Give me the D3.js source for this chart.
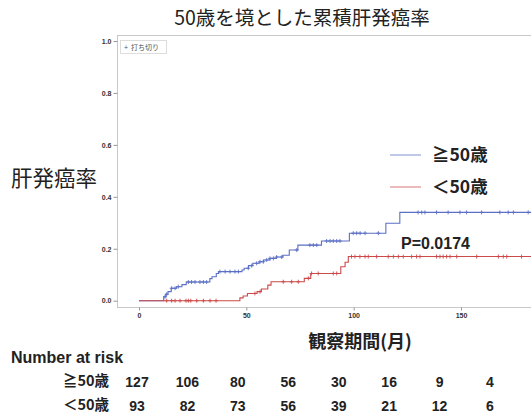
<!DOCTYPE html>
<html><head><meta charset="utf-8">
<script src="https://cdn.jsdelivr.net/npm/d3@7"></script>
<style>
html,body{margin:0;padding:0;background:#fff;overflow:hidden;}
svg{display:block;}
</style></head>
<body>
<svg id="chart" width="531" height="414"></svg>
<script>
// ---- data ----
const title = "50歳を境とした累積肝発癌率";
const yLabel = "肝発癌率";
const xLabel = "観察期間(月)";
const groupNames = ["≧50歳", "＜50歳"];
const xTicks = [0, 50, 100, 150];
const yTicks = [0.0, 0.2, 0.4, 0.6, 0.8, 1.0];
const pValueText = "P=0.0174";
const censorLegend = "打ち切り";
const lastFollowUp = 195;

const olderTimes = [0, 11.5, 12.5, 13.5, 15, 17.5, 20, 22, 33, 34, 36, 37, 48, 49, 51, 53, 56, 58, 61, 64, 67, 70, 74, 85, 98, 115, 121.5];
const olderRates = [0, 0.015, 0.025, 0.035, 0.048, 0.054, 0.062, 0.072, 0.085, 0.092, 0.105, 0.112, 0.118, 0.125, 0.135, 0.144, 0.15, 0.157, 0.163, 0.168, 0.175, 0.195, 0.214, 0.23, 0.26, 0.298, 0.34];
const olderCensor = [12.1, 12.9, 15.2, 16.8, 18.3, 23, 24.5, 26.1, 28.4, 30, 31.5, 37.7, 40.1, 42.4, 44.7, 46.3, 50.9, 52.5, 54.8, 56.4, 57.9, 59.5, 61, 62.6, 64.1, 66.5, 73.5, 79.6, 81.2, 82.8, 87.4, 89, 90.5, 92.1, 93.6, 99.8, 101.4, 103, 105.3, 111.5, 130, 131.7, 133.2, 138.6, 144, 149.5, 152.6, 159.6, 168.1, 172, 174.4, 181.3];

const youngerTimes = [0, 47, 48.5, 50.5, 55, 57, 60, 61.5, 77, 80, 94, 96, 97.5];
const youngerRates = [0, 0.011, 0.018, 0.028, 0.035, 0.045, 0.06, 0.073, 0.086, 0.105, 0.131, 0.148, 0.17];
const youngerCensor = [12.9, 15.2, 16.8, 19.1, 21.9, 23, 24.1, 26.9, 30, 33.1, 35.9, 54, 56.4, 67.2, 71.1, 74.2, 78.9, 80.4, 83.5, 90.5, 92.1, 99, 100.6, 102.9, 105.3, 106.8, 110.7, 116.1, 118.5, 120.8, 123.1, 127, 129.3, 130.9, 138.6, 140.2, 141.7, 143.3, 144.9, 148, 157.3, 167.4, 169.7, 171.3, 178.2];

const riskTimes = [0, 24, 48, 72, 96, 120, 144, 168];
const olderAtRisk = [127, 106, 80, 56, 30, 16, 9, 4];
const youngerAtRisk = [93, 82, 73, 56, 39, 21, 12, 6];

// ---- chart ----
const svg = d3.select("#chart");
const cjk = "'Noto Sans CJK JP','Noto Sans',sans-serif";
const latin = "'Liberation Sans',Arial,sans-serif";

const x = d3.scaleLinear().domain([0, 150]).range([139, 461]);
const y = d3.scaleLinear().domain([0, 1]).range([300.7, 41]);
const frame = {left: 117.5, top: 35.5, bottom: 307.5, right: 580};

// title
svg.append("text").attr("x", 302).attr("y", 25).attr("text-anchor", "middle")
  .attr("font-family", cjk).attr("font-size", 19.5).attr("fill", "#222").text(title);

// frame
svg.append("rect").attr("x", frame.left).attr("y", frame.top)
  .attr("width", frame.right - frame.left).attr("height", frame.bottom - frame.top)
  .attr("fill", "none").attr("stroke", "#c8c8c8").attr("stroke-width", 1);

// x axis
const xAxis = d3.axisBottom(x).tickValues(xTicks).tickSize(3).tickPadding(3).tickFormat(d3.format("d"));
const gx = svg.append("g").attr("transform", `translate(0,${frame.bottom})`).call(xAxis);
gx.select(".domain").remove();
gx.selectAll("line").attr("stroke", "#999");
gx.selectAll("text").attr("font-family", latin).attr("font-size", 7).attr("font-weight", "bold").attr("fill", "#333");

// y axis
const yAxis = d3.axisLeft(y).tickValues(yTicks).tickSize(4).tickPadding(2).tickFormat(d3.format(".1f"));
const gy = svg.append("g").attr("transform", `translate(${frame.left},0)`).call(yAxis);
gy.select(".domain").remove();
gy.selectAll("line").attr("stroke", "#999");
gy.selectAll("text").attr("font-family", latin).attr("font-size", 7).attr("font-weight", "bold").attr("fill", "#333");

// censor legend box
const lg = svg.append("g");
lg.append("rect").attr("x", 120.5).attr("y", 40.5).attr("width", 46).attr("height", 13)
  .attr("fill", "#fff").attr("stroke", "#ddd").attr("stroke-width", 1);
lg.append("text").attr("x", 124).attr("y", 50).attr("font-family", latin).attr("font-size", 7).attr("fill", "#555").text("+");
lg.append("text").attr("x", 131).attr("y", 50).attr("font-family", cjk).attr("font-size", 7).attr("fill", "#555").text(censorLegend);

// curves
const colors = ["#5b6fc4", "#cc4a4a"];
function stepPath(times, rates) {
  const pts = times.map((t, i) => [t, rates[i]]);
  pts.push([lastFollowUp, rates[rates.length - 1]]);
  return d3.line().x(d => x(d[0])).y(d => y(d[1])).curve(d3.curveStepAfter)(pts);
}
function rateAt(times, rates, t) {
  const i = d3.bisectRight(times, t) - 1;
  return rates[Math.max(0, i)];
}
const series = [
  {times: olderTimes, rates: olderRates, censor: olderCensor, color: colors[0]},
  {times: youngerTimes, rates: youngerRates, censor: youngerCensor, color: colors[1]}
];
const clip = svg.append("clipPath").attr("id", "clip").append("rect")
  .attr("x", frame.left).attr("y", frame.top).attr("width", frame.right - frame.left).attr("height", frame.bottom - frame.top);
const plot = svg.append("g").attr("clip-path", "url(#clip)");
series.forEach(s => {
  plot.append("path").attr("d", stepPath(s.times, s.rates)).attr("fill", "none")
    .attr("stroke", s.color).attr("stroke-width", 1.1);
  const cs = plot.append("g");
  s.censor.forEach(t => {
    const cx = x(t), cy = y(rateAt(s.times, s.rates, t));
    cs.append("path").attr("d", `M${cx - 2},${cy}H${cx + 2}M${cx},${cy - 2}V${cy + 2}`)
      .attr("stroke", s.color).attr("stroke-width", 0.9).attr("fill", "none");
  });
});

// legend
const legendY = [155, 187];
groupNames.forEach((g, i) => {
  svg.append("line").attr("x1", 390).attr("x2", 421).attr("y1", legendY[i]).attr("y2", legendY[i])
    .attr("stroke", colors[i]).attr("stroke-width", 1).attr("opacity", 0.75);
  svg.append("text").attr("x", 432).attr("y", legendY[i] + 6).attr("font-family", cjk)
    .attr("font-size", 17.5).attr("font-weight", "bold").attr("fill", "#222").text(g);
});

// p value
svg.append("text").attr("x", 401).attr("y", 249).attr("font-family", latin).attr("font-size", 16)
  .attr("font-weight", "bold").attr("fill", "#222").text(pValueText);

// y label
svg.append("text").attr("x", 11).attr("y", 186).attr("font-family", cjk).attr("font-size", 21.5)
  .attr("fill", "#222").text(yLabel);

// x label
svg.append("text").attr("x", 360).attr("y", 348).attr("text-anchor", "middle").attr("font-family", cjk)
  .attr("font-size", 18).attr("font-weight", "bold").attr("fill", "#222").text(xLabel);

// number at risk
svg.append("text").attr("x", 11).attr("y", 363).attr("font-family", latin).attr("font-size", 16)
  .attr("font-weight", "bold").attr("fill", "#222").text("Number at risk");
const rx = d3.scaleLinear().domain([0, 168]).range([137, 490]);
const rowY = [386.5, 410.5];
[olderAtRisk, youngerAtRisk].forEach((row, i) => {
  svg.append("text").attr("x", 63).attr("y", rowY[i] - 1).attr("font-family", cjk).attr("font-size", 14.5)
    .attr("font-weight", "bold").attr("fill", "#222").text(groupNames[i]);
  svg.append("g").selectAll("text").data(row).join("text")
    .attr("x", (d, j) => rx(riskTimes[j])).attr("y", rowY[i]).attr("text-anchor", "middle")
    .attr("font-family", latin).attr("font-size", 14).attr("font-weight", "bold").attr("fill", "#222")
    .text(d => d);
});
</script>
</body></html>
